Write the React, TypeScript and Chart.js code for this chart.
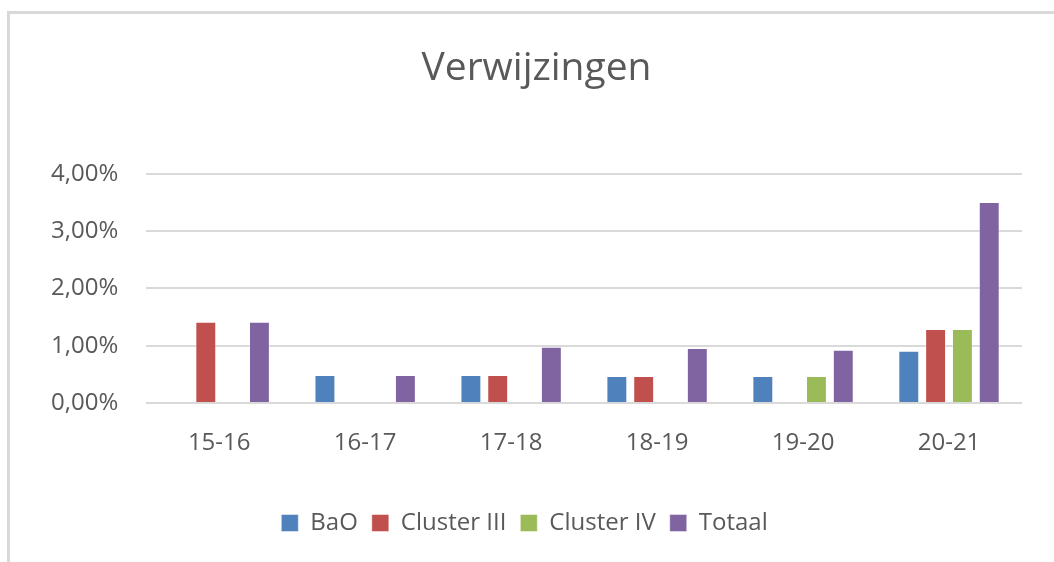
import React, { useEffect, useRef } from "react";
import { Chart, registerables } from "chart.js";

Chart.register(...registerables);

const categories = ["15-16", "16-17", "17-18", "18-19", "19-20", "20-21"];
const seriesNames = ["BaO", "Cluster III", "Cluster IV", "Totaal"];
const baoValues = [null, 0.49, 0.49, 0.47, 0.47, 0.91];
const cluster3Values = [1.42, null, 0.49, 0.47, null, 1.29];
const cluster4Values = [null, null, null, null, 0.47, 1.29];
const totaalValues = [1.42, 0.49, 0.98, 0.96, 0.93, 3.51];
const seriesColors = ["#4F81BD", "#C0504D", "#9BBB59", "#8064A2"];
const yTicks = [0, 1, 2, 3, 4];

const FONT = "'Open Sans', 'Noto Sans', sans-serif";
const TEXT = "#595959";

const legendShift = {
  id: "legendShift",
  afterLayout(chart: any) {
    const l = chart.legend;
    if (l) {
      l.left -= 12;
      l.right -= 12;
    }
  },
};

export default function App() {
  const ref = useRef<HTMLCanvasElement | null>(null);

  useEffect(() => {
    if (!ref.current) return;
    const values = [baoValues, cluster3Values, cluster4Values, totaalValues];
    const chart = new Chart(ref.current, {
      type: "bar",
      data: {
        labels: categories,
        datasets: seriesNames.map((name, i) => ({
          label: name,
          data: values[i],
          backgroundColor: seriesColors[i],
          borderColor: "rgba(255,255,255,0.45)",
          borderWidth: 1,
          categoryPercentage: 0.735,
          barPercentage: 0.78,
        })),
      },
      plugins: [legendShift],
      options: {
        animation: false,
        responsive: false,
        maintainAspectRatio: false,
        layout: { padding: { top: 10, left: 51, right: 32, bottom: 17 } },
        plugins: {
          title: {
            display: true,
            text: "Verwijzingen",
            color: TEXT,
            font: { family: FONT, size: 39, weight: "normal" },
            padding: { top: 35, bottom: 82 },
          },
          legend: {
            position: "bottom",
            labels: {
              color: TEXT,
              font: { family: FONT, size: 24 },
              boxWidth: 17,
              boxHeight: 17,
              padding: 14,
            },
          },
          tooltip: { enabled: false },
        },
        scales: {
          x: {
            grid: { display: false, drawTicks: false },
            border: { display: false },
            ticks: { color: TEXT, font: { family: FONT, size: 24 }, padding: 26 },
            afterFit: (scale: any) => {
              scale.height = 94;
            },
          },
          y: {
            min: 0,
            max: 4,
            afterBuildTicks: (scale: any) => {
              scale.ticks = yTicks.map((v) => ({ value: v }));
            },
            afterFit: (scale: any) => {
              scale.width -= 28;
            },
            grid: { color: "#D9D9D9", lineWidth: 2, drawTicks: false },
            border: { display: false },
            ticks: {
              color: TEXT,
              font: { family: FONT, size: 24 },
              padding: 28,
              callback: (v: any) => Number(v).toFixed(2).replace(".", ",") + "%",
            },
          },
        },
      },
    });
    return () => chart.destroy();
  }, []);

  return (
    <div
      style={{
        position: "fixed",
        left: 0,
        top: 0,
        width: 1054,
        height: 562,
        overflow: "hidden",
        background: "#fff",
      }}
    >
      <div
        style={{
          position: "absolute",
          left: 7,
          top: 11,
          width: 1200,
          height: 700,
          border: "3px solid #D9D9D9",
        }}
      />
      <canvas
        ref={ref}
        width={1054}
        height={562}
        style={{ position: "absolute", left: 0, top: 0, width: 1054, height: 562 }}
      />
    </div>
  );
}
